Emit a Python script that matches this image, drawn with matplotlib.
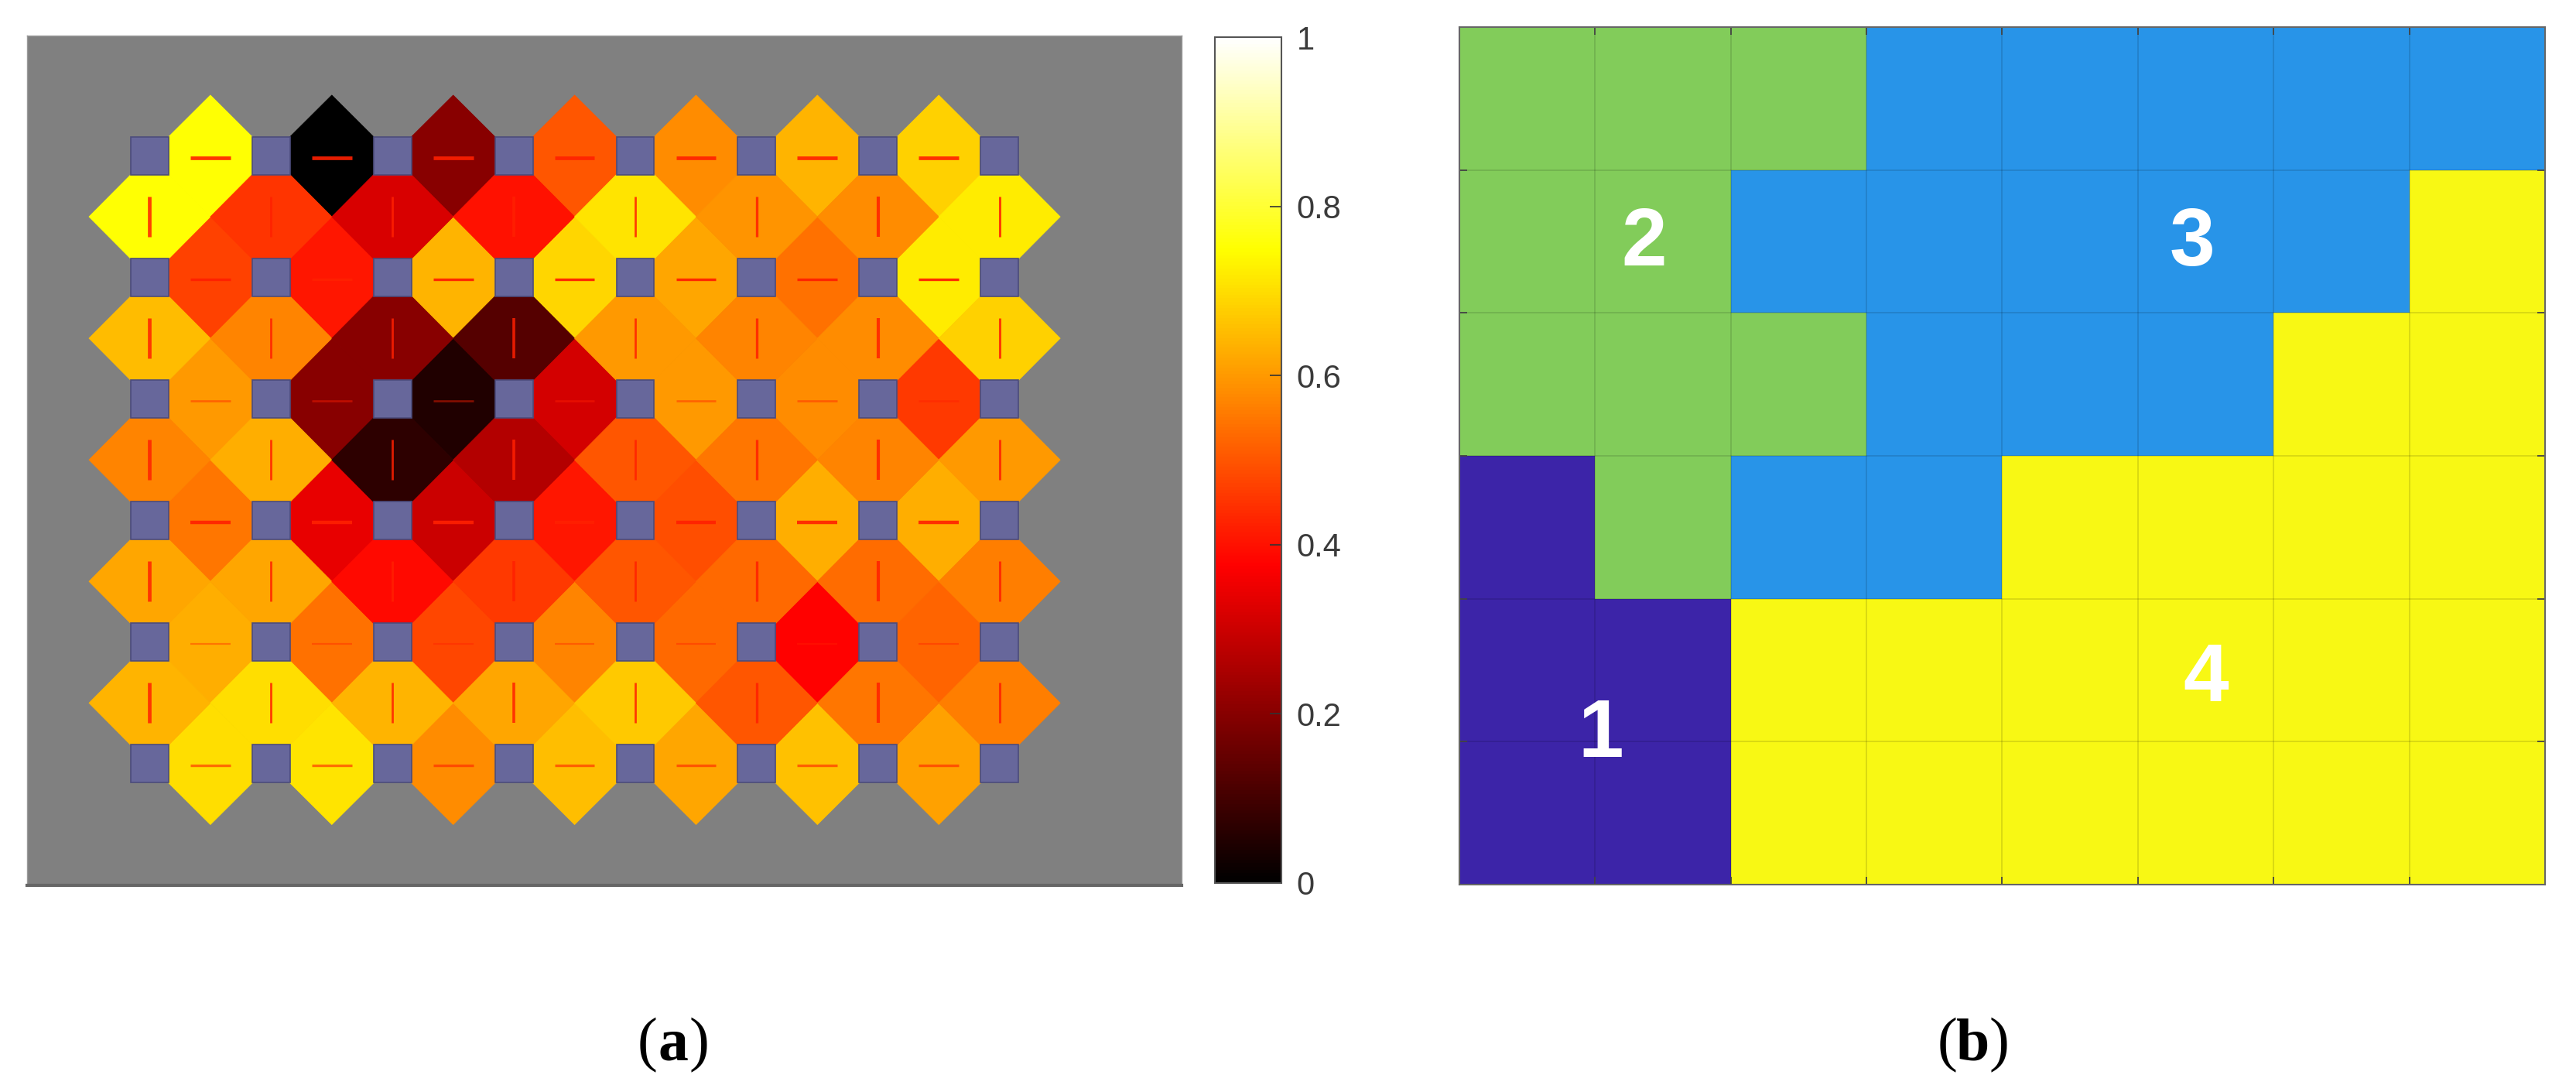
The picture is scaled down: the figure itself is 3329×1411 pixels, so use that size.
import numpy as np
import matplotlib
matplotlib.use('Agg')
import matplotlib.pyplot as plt
from matplotlib.collections import PolyCollection
from matplotlib.colors import LinearSegmentedColormap, ListedColormap, Normalize

# neighbor distances between units
h_weights = [
    [0.75, 0.00, 0.20, 0.50, 0.58, 0.64, 0.68],
    [0.47, 0.41, 0.64, 0.69, 0.62, 0.54, 0.72],
    [0.60, 0.20, 0.05, 0.31, 0.60, 0.58, 0.46],
    [0.55, 0.34, 0.30, 0.41, 0.49, 0.63, 0.63],
    [0.63, 0.54, 0.48, 0.57, 0.53, 0.375, 0.52],
    [0.70, 0.71, 0.58, 0.655, 0.62, 0.66, 0.61],
]
v_weights = [
    [0.75, 0.45, 0.32, 0.40, 0.71, 0.59, 0.58, 0.72],
    [0.65, 0.57, 0.20, 0.125, 0.60, 0.57, 0.58, 0.68],
    [0.57, 0.63, 0.07, 0.265, 0.50, 0.55, 0.57, 0.60],
    [0.62, 0.62, 0.39, 0.46, 0.50, 0.53, 0.535, 0.56],
    [0.64, 0.70, 0.64, 0.62, 0.67, 0.50, 0.55, 0.56],
]
cbar_ticks = [0, 0.2, 0.4, 0.6, 0.8, 1]
cbar_labels = ['0', '0.2', '0.4', '0.6', '0.8', '1']

# cluster index of each cell in panel b
clusters = [
    [2, 2, 2, 3, 3, 3, 3, 3],
    [2, 2, 3, 3, 3, 3, 3, 4],
    [2, 2, 2, 3, 3, 3, 4, 4],
    [1, 2, 3, 3, 4, 4, 4, 4],
    [1, 1, 4, 4, 4, 4, 4, 4],
    [1, 1, 4, 4, 4, 4, 4, 4],
]
cluster_colors = ['#3c24a8', '#82cc5a', '#2894e8', '#f8f814']
cluster_names = ['1', '2', '3', '4']
cluster_label_x = [1.04, 1.36, 5.40, 5.50]
cluster_label_y = [4.96, 1.52, 1.52, 4.57]

W, H = 3330, 1411


def px_axes(fig, left, top, right, bottom):
    return fig.add_axes([left / W, 1 - bottom / H, (right - left) / W, (bottom - top) / H])


hot = LinearSegmentedColormap.from_list('matlab_hot', [(0, 'black'), (0.375, 'red'), (0.75, 'yellow'), (1, 'white')], N=256)
norm = Normalize(0, 1)

fig = plt.figure(figsize=(W / 100, H / 100), dpi=100, facecolor='white')

# panel a
ax = px_axes(fig, 35, 46, 1527, 1144)
ax.set_facecolor('#808080')
ax.set_xlim(-1.01, 8.5)
ax.set_ylim(6.0, -0.99)
ax.set_xticks([])
ax.set_yticks([])
for side in ['top', 'left', 'right']:
    ax.spines[side].set_color('#9a9a9a')
    ax.spines[side].set_linewidth(1)
ax.spines['bottom'].set_color('#666666')
ax.spines['bottom'].set_linewidth(3)

h_weights = np.array(h_weights)
v_weights = np.array(v_weights)
flat = 0.156
side = 0.346
tip = 0.5

polys = []
vals = []
for r in range(h_weights.shape[0]):
    for c in range(h_weights.shape[1]):
        x, y = c + 0.5, r
        polys.append([(x, y - tip), (x + side, y - flat), (x + side, y + flat),
                      (x, y + tip), (x - side, y + flat), (x - side, y - flat)])
        vals.append(h_weights[r, c])
for r in range(v_weights.shape[0]):
    for c in range(v_weights.shape[1]):
        x, y = c, r + 0.5
        polys.append([(x - tip, y), (x - flat, y - side), (x + flat, y - side),
                      (x + tip, y), (x + flat, y + side), (x - flat, y + side)])
        vals.append(v_weights[r, c])
cells = PolyCollection(polys, array=np.array(vals), cmap=hot, norm=norm, edgecolors='face', linewidths=0.6)
ax.add_collection(cells)

# units
for r in range(6):
    for c in range(8):
        ax.add_patch(plt.Rectangle((c - flat, r - flat), 2 * flat, 2 * flat, facecolor='#67679b',
                                   edgecolor='#4c4c7c', linewidth=1.2, zorder=3))

# red connection dashes, their weight differs per row/column in the picture
h_lw = [3.4, 2.4, 1.9, 3.2, 1.6, 2.4]
h_alpha = [0.9, 0.95, 0.45, 0.9, 0.4, 0.6]
v_lw = [3.4, 2.0, 2.0, 2.6, 2.0, 2.4, 3.0, 2.2]
for r in range(h_weights.shape[0]):
    xs = np.arange(h_weights.shape[1]) + 0.5
    ax.hlines(np.full(xs.shape, r + 0.015), xs - 0.165, xs + 0.165, color='#ff2000', lw=h_lw[r], alpha=h_alpha[r], zorder=4)
for c in range(v_weights.shape[1]):
    ys = np.arange(v_weights.shape[0]) + 0.5
    ax.vlines(np.full(ys.shape, c), ys - 0.165, ys + 0.165, color='#ff2000', lw=v_lw[c], alpha=0.85, zorder=4)

# colorbar
cax = px_axes(fig, 1570, 48, 1656, 1141)
sm = plt.cm.ScalarMappable(norm=norm, cmap=hot)
cb = fig.colorbar(sm, cax=cax)
cb.set_ticks(cbar_ticks)
cb.set_ticklabels(cbar_labels)
cax.tick_params(direction='in', length=11, width=1.2, color='#333333', pad=14, labelsize=30, labelcolor='#3a3a3a')
for t in cax.get_yticklabels():
    t.set_family('Liberation Sans')
cb.outline.set_edgecolor('#555555')
cb.outline.set_linewidth(1.5)

# panel b
bx = px_axes(fig, 1886, 35, 3289, 1143)
clusters = np.array(clusters)
bx.pcolormesh(np.arange(clusters.shape[1] + 1), np.arange(clusters.shape[0] + 1), clusters,
              cmap=ListedColormap(cluster_colors), vmin=0.5, vmax=4.5)
bx.set_xlim(0, clusters.shape[1])
bx.set_ylim(clusters.shape[0], 0)
bx.set_xticks(np.arange(clusters.shape[1] + 1))
bx.set_yticks(np.arange(clusters.shape[0] + 1))
bx.tick_params(direction='in', length=7, width=1.3, color='#444444', top=True, right=True,
               labelbottom=False, labelleft=False)
bx.grid(True, color='black', alpha=0.13, lw=1.3)
for s in bx.spines.values():
    s.set_color('#666666')
    s.set_linewidth(1.5)

for name, x, y in zip(cluster_names, cluster_label_x, cluster_label_y):
    bx.text(x, y, name, color='white', fontsize=76, fontweight='bold', family='Liberation Sans',
            ha='center', va='center')

# captions
for cx, letter in [(870, 'a'), (2550, 'b')]:
    fig.text((cx - 33) / W, 1 - 1369 / H, '(', fontsize=56, family='Liberation Serif', ha='center', va='baseline')
    fig.text(cx / W, 1 - 1369 / H, letter, fontsize=56, family='Liberation Serif', fontweight='bold', ha='center', va='baseline')
    fig.text((cx + 33) / W, 1 - 1369 / H, ')', fontsize=56, family='Liberation Serif', ha='center', va='baseline')

fig.savefig('out.png', dpi=100)
